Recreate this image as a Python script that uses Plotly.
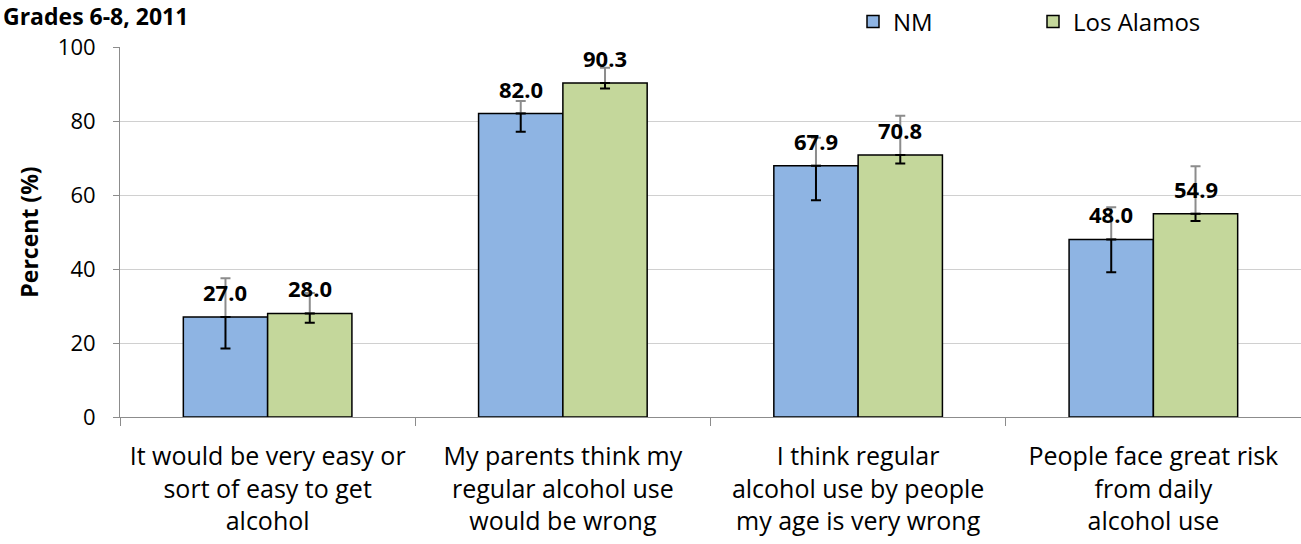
import plotly.graph_objects as go

categories = [
    "It would be very easy or<br>sort of easy to get<br>alcohol",
    "My parents think my<br>regular alcohol use<br>would be wrong",
    "I think regular<br>alcohol use by people<br>my age is very wrong",
    "People face great risk<br>from daily<br>alcohol use",
]
nm_values = [27.0, 82.0, 67.9, 48.0]
nm_upper = [37.5, 85.4, 75.5, 56.7]
nm_lower = [18.5, 77.1, 58.6, 39.1]
la_values = [28.0, 90.3, 70.8, 54.9]
la_upper = [33.5, 94.4, 81.4, 67.8]
la_lower = [25.5, 88.8, 68.5, 53.0]

FONT = "Open Sans"
NM_COLOR = "#8EB4E3"
LA_COLOR = "#C4D79B"
UP_ERR = "#8C8C8C"
DOWN_ERR = "#000000"

PLOT_W = 1301 - 120
PLOT_H = 544 - 47 - 127

fig = go.Figure()


def add_series(name, values, upper, lower, color, group, legend):
    plus = [u - v for u, v in zip(upper, values)]
    minus = [v - l for v, l in zip(values, lower)]
    # upper whisker (grey), drawn under the bar itself
    fig.add_trace(go.Bar(
        x=categories, y=values, offsetgroup=group, showlegend=False,
        marker=dict(color="rgba(0,0,0,0)", line=dict(width=0)),
        error_y=dict(type="data", symmetric=False, array=plus,
                     arrayminus=[0] * len(values), color=UP_ERR,
                     thickness=2, width=5),
        hoverinfo="skip",
    ))
    # visible bar with the lower whisker (black)
    fig.add_trace(go.Bar(
        x=categories, y=values, offsetgroup=group, name=name, legend=legend,
        marker=dict(color=color, line=dict(color="#000000", width=1.5)),
        error_y=dict(type="data", symmetric=False, array=[0] * len(values),
                     arrayminus=minus, color=DOWN_ERR,
                     thickness=2, width=5),
    ))


add_series("NM", nm_values, nm_upper, nm_lower, NM_COLOR, "nm", "legend")
add_series("Los Alamos", la_values, la_upper, la_lower, LA_COLOR, "la", "legend2")

# value labels above each bar
for i in range(len(categories)):
    for val, shift in ((nm_values[i], -0.143), (la_values[i], 0.143)):
        fig.add_annotation(
            x=i + shift, y=val, xref="x", yref="y",
            text=f"<b>{val:.1f}</b>", showarrow=False,
            yanchor="middle", yshift=25,
            font=dict(family=FONT, size=22, color="#000000"),
        )

fig.add_annotation(
    x=(1 - 120) / PLOT_W, y=1 + (47 - 16) / PLOT_H,
    xref="paper", yref="paper", text="<b>Grades 6-8, 2011</b>",
    showarrow=False, xanchor="left", yanchor="middle",
    font=dict(family=FONT, size=23, color="#000000"),
)


def legend_box(left_px):
    return dict(
        orientation="h", x=(left_px - 120) / PLOT_W, y=1 + (47 - 22) / PLOT_H,
        xanchor="left", yanchor="middle",
        font=dict(family=FONT, size=24, color="#000000"),
        itemwidth=30, bgcolor="rgba(0,0,0,0)",
    )


fig.update_layout(
    width=1301, height=544,
    margin=dict(l=120, r=0, t=47, b=127, autoexpand=False),
    paper_bgcolor="#FFFFFF", plot_bgcolor="#FFFFFF",
    barmode="group", bargap=0.429, bargroupgap=0,
    font=dict(family=FONT, size=20, color="#000000"),
    showlegend=True,
    legend=legend_box(853),
    legend2=legend_box(1033),
    xaxis=dict(
        type="category", tickson="boundaries", ticks="outside",
        ticklen=8, tickcolor="#8C8C8C", tickwidth=1, tickangle=0,
        automargin=False,
        showline=True, linecolor="#8C8C8C", linewidth=1,
        tickfont=dict(family=FONT, size=25, color="#000000"),
        ticklabelstandoff=17,
        range=[-0.5, 3.5],
    ),
    yaxis=dict(
        range=[0, 100], dtick=20, ticks="outside", ticklen=6,
        tickcolor="#8C8C8C", showline=True, linecolor="#8C8C8C",
        linewidth=1, showgrid=True, gridcolor="#D0D0D0", gridwidth=1,
        zeroline=False, ticklabelstandoff=13, automargin=False,
        tickfont=dict(family=FONT, size=22, color="#000000"),
        title=dict(text="<b>Percent (%)</b>", standoff=12,
                   font=dict(family=FONT, size=23, color="#000000")),
    ),
)

fig.write_html("out.html")
